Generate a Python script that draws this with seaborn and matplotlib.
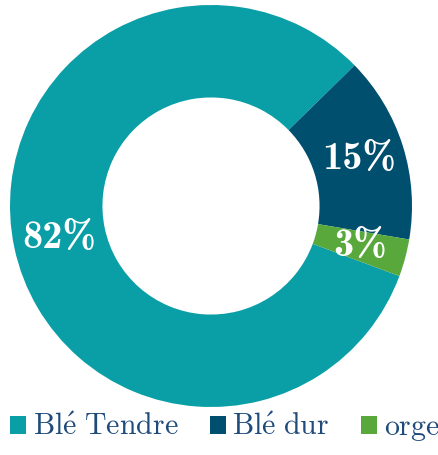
import matplotlib
matplotlib.use("Agg")
import matplotlib.pyplot as plt
import seaborn as sns
import numpy as np
from matplotlib.patches import Patch

labels = ["Blé Tendre", "Blé dur", "orge"]
values = [82, 15, 3]
pct_labels = ["82%", "15%", "3%"]
colors = ["#0a9ea6", "#004f6e", "#58a83b"]

sns.set_theme(style="white")
plt.rcParams['font.family'] = ['cmr10', 'DejaVu Serif']
plt.rcParams['mathtext.fontset'] = 'cm'

fig = plt.figure(figsize=(4.39, 4.55), dpi=100)
ax = fig.add_axes([10/439, 48/455, 402/439, 402/455])

wedges, _ = ax.pie(values, colors=sns.color_palette(colors), startangle=-20.4,
                   counterclock=False, radius=1,
                   wedgeprops=dict(width=0.46, linewidth=0))
ax.set_xlim(-1, 1)
ax.set_ylim(-1, 1)
ax.set_aspect('equal')
ax.axis('off')

for w, txt in zip(wedges, pct_labels):
    ang = np.deg2rad((w.theta1 + w.theta2) / 2)
    r = 0.77
    ax.text(r*np.cos(ang), r*np.sin(ang), txt, ha='center', va='center',
            color='white', fontsize=29, family=['cmb10', 'DejaVu Serif'])

# é is not in cmr10, so write the labels through mathtext with the cm fontset
leg_labels = ["$\\mathrm{" + s.replace("é", "\\acute{e}").replace(" ", "\\ ") + "}$" for s in labels]
handles = [Patch(facecolor=c, edgecolor='none') for c in colors]
leg = fig.legend(handles, leg_labels, loc='lower center', bbox_to_anchor=(0.5125, -0.014),
                 ncol=3, frameon=False, fontsize=21.5, handlelength=0.53, handleheight=0.53,
                 handletextpad=0.23, columnspacing=1.05, borderaxespad=0.2)
for t in leg.get_texts():
    t.set_color("#1f4b7c")

fig.savefig("out.png", dpi=100)
